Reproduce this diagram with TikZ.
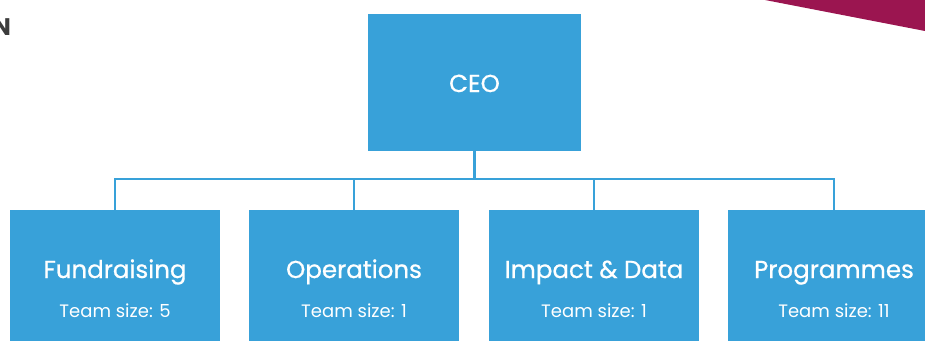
\documentclass[tikz,border=0pt]{standalone}
\usepackage{fontspec}
\setmainfont{Poppins}
\newfontfamily\titlefont{Poppins}[FakeBold=0.8]
\definecolor{boxblue}{HTML}{38A1D9}
\definecolor{magenta}{HTML}{9B1550}
\definecolor{darkgray}{HTML}{3C3C3C}
\begin{document}
\begin{tikzpicture}[x=1pt,y=-1pt,
  box/.style={fill=boxblue,draw=none,inner sep=0pt,text=white},
  conn/.style={draw=boxblue,line width=2.5pt},
  titletext/.style={text=white,font=\titlefont\fontsize{24.5}{27}\selectfont},
  subtext/.style={text=white,font=\fontsize{18}{21}\selectfont}]
\useasboundingbox (0,0) rectangle (925,340);
\begin{scope}
\clip (0,0) rectangle (925,340);
% magenta corner
\fill[magenta] (765,0) -- (925,0) -- (925,31) -- cycle;
% heading fragment
\node[anchor=base east,inner sep=0pt,text=darkgray,font=\fontsize{24}{26}\selectfont\bfseries] (head) at (11,35) {N};
% CEO
\node[box,minimum width=213pt,minimum height=137pt] (ceo) at (474.5,82.5) {};
\node[titletext,anchor=base] (ceot) at (474.5,92) {CEO};
% children
\node[box,minimum width=210pt,minimum height=140pt,anchor=north] (f) at (115,210) {};
\node[box,minimum width=210pt,minimum height=140pt,anchor=north] (o) at (354,210) {};
\node[box,minimum width=210pt,minimum height=140pt,anchor=north] (i) at (594,210) {};
\node[box,minimum width=212pt,minimum height=140pt,anchor=north] (p) at (834,210) {};
\coordinate (bus) at (474.5,179);
\draw[conn] (ceo.south) -- (bus);
\draw[conn] (f.north) |- (bus);
\draw[conn] (o.north) |- (bus);
\draw[conn] (i.north) |- (bus);
\draw[conn] (p.north) |- (bus);
% texts
\node[titletext,anchor=base] (ft) at (115,278) {Fundraising};
\node[subtext,anchor=base] (fs) at (115,317) {Team size: 5};
\node[titletext,anchor=base] (ot) at (354,278) {Operations};
\node[subtext,anchor=base] (os) at (354,317) {Team size: 1};
\node[titletext,anchor=base] (it) at (594,278) {Impact \& Data};
\node[subtext,anchor=base] (is) at (594,317) {Team size: 1};
\node[titletext,anchor=base] (pt) at (834,278) {Programmes};
\node[subtext,anchor=base] (ps) at (834,317) {Team size: 11};
\end{scope}
\end{tikzpicture}
\end{document}
